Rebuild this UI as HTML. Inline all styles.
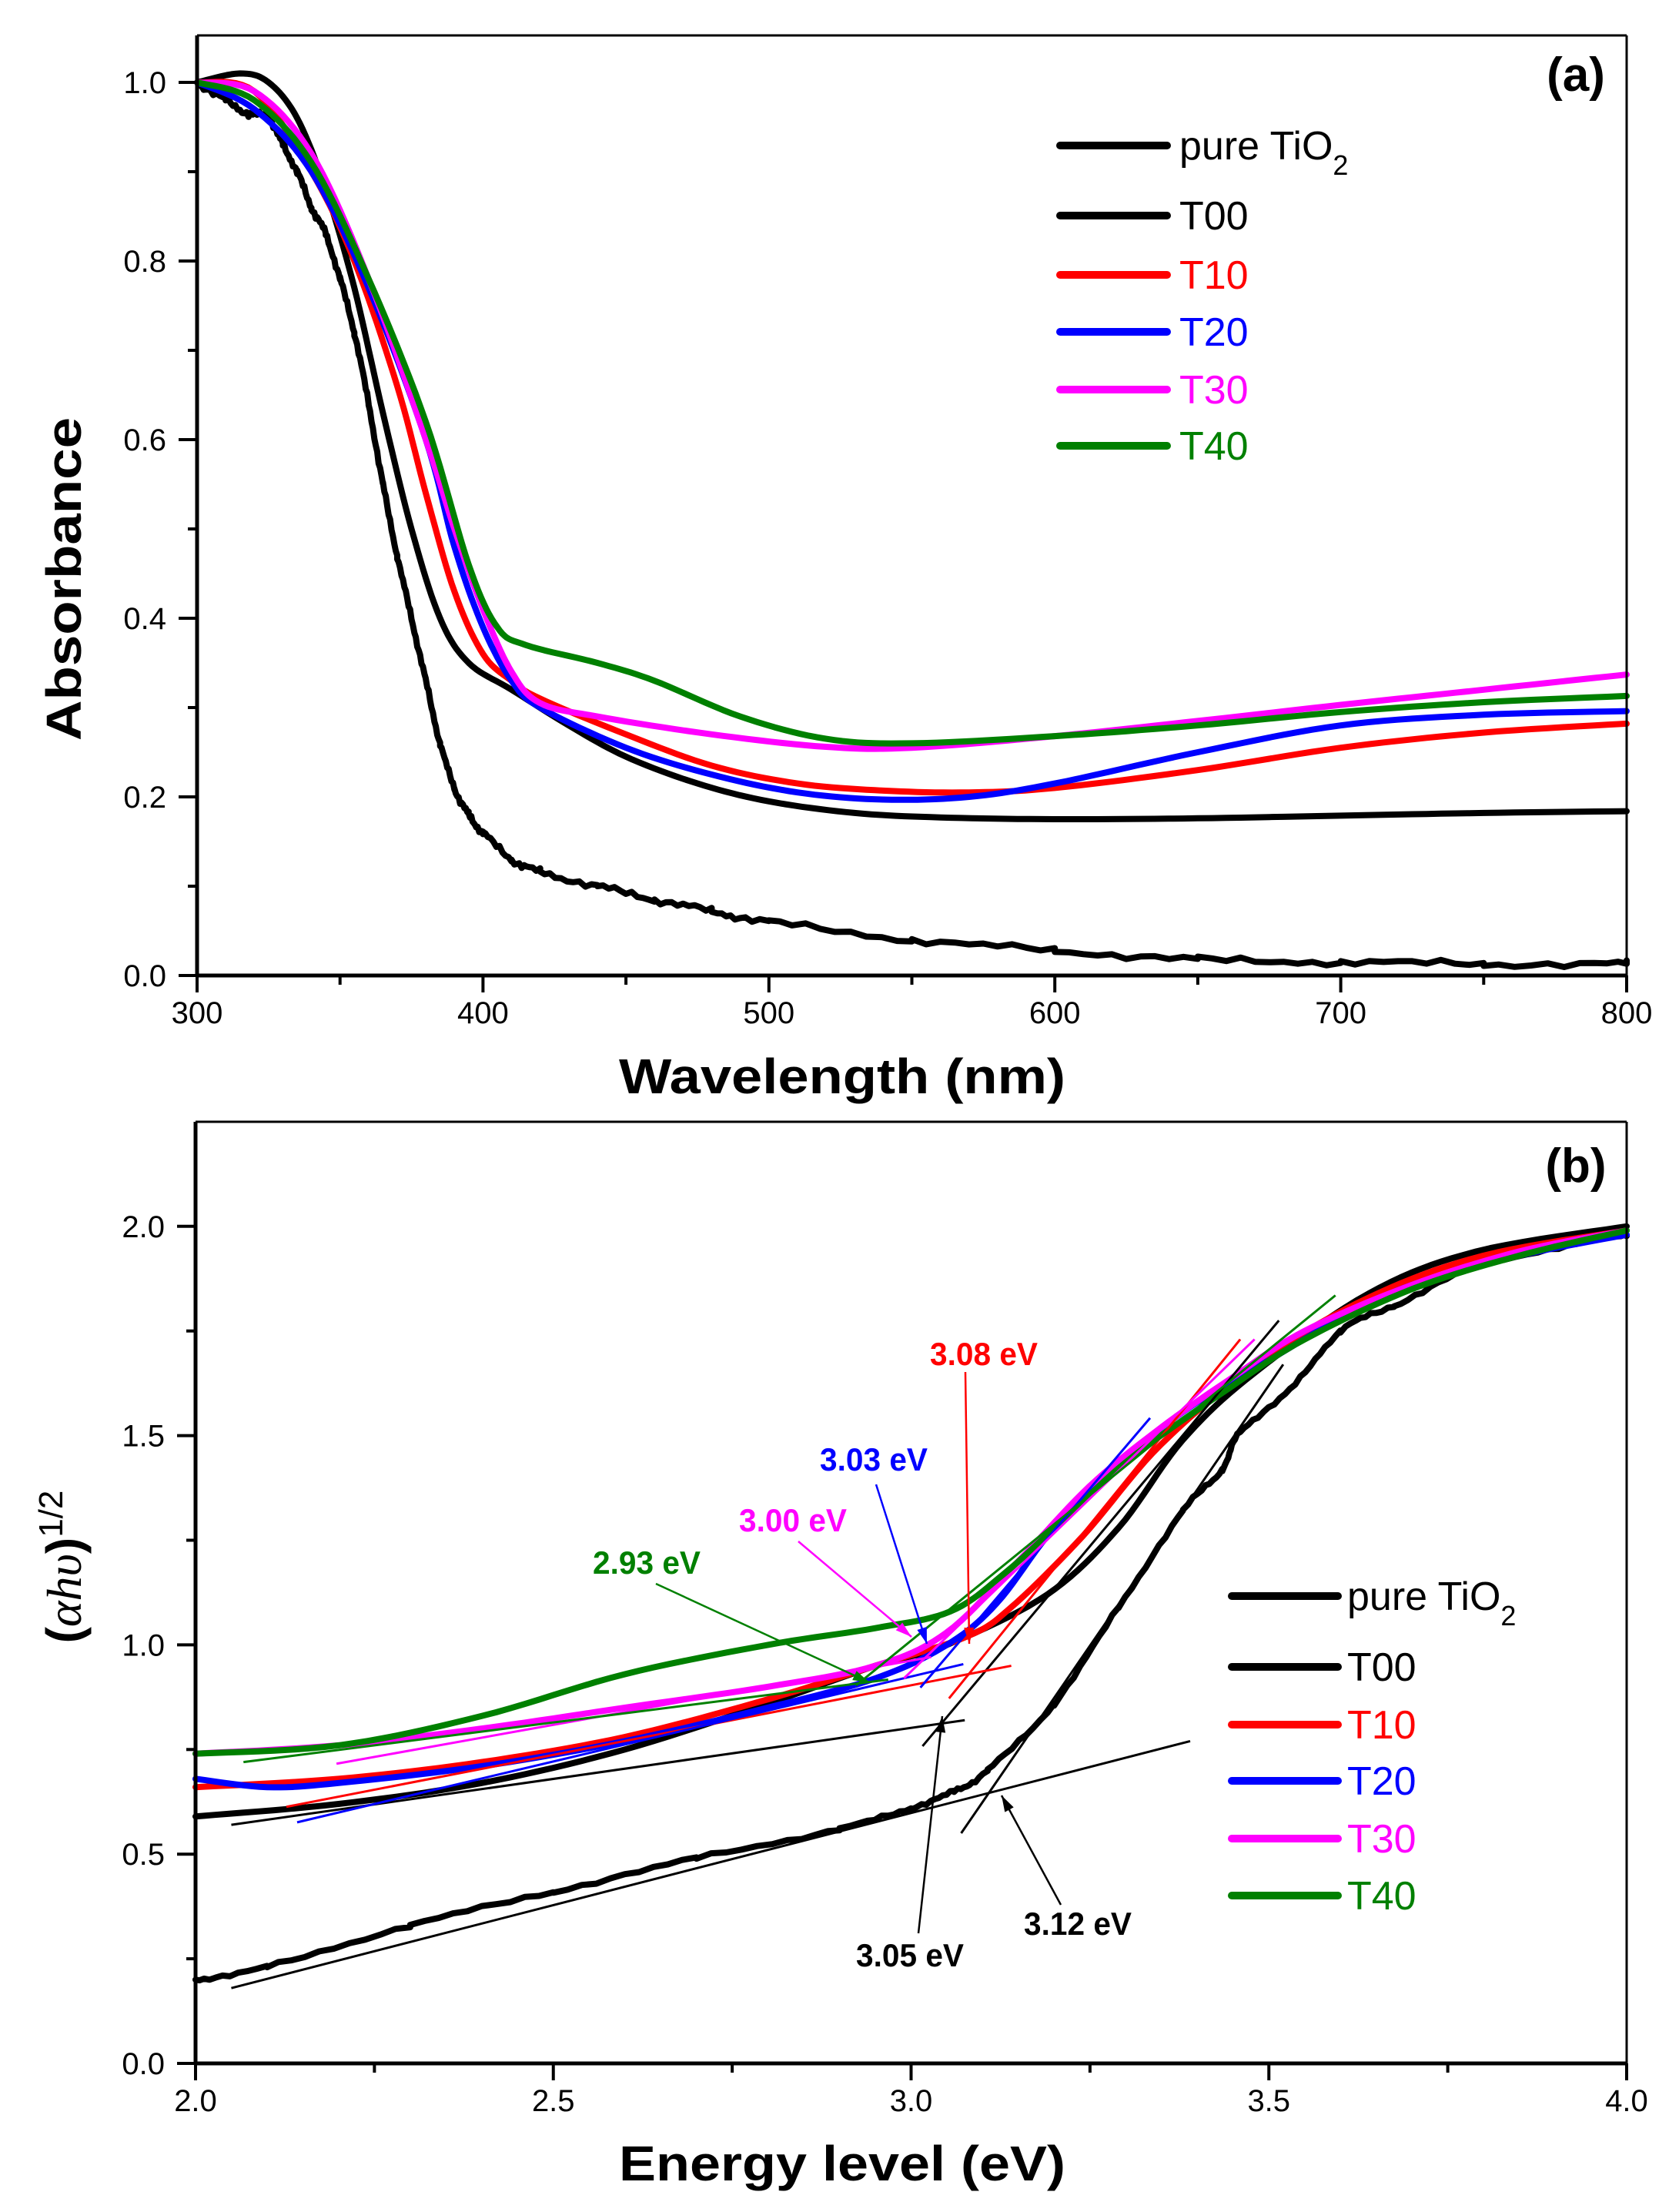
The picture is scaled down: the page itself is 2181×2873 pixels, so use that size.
<!DOCTYPE html>
<html><head><meta charset="utf-8"><style>
html,body{margin:0;padding:0;background:#fff}
svg{display:block}
text{font-family:"Liberation Sans",Arial,sans-serif}
</style></head><body>
<svg id="s" width="2181" height="2873" viewBox="0 0 2181 2873" xmlns="http://www.w3.org/2000/svg">
<rect width="2181" height="2873" fill="#fff"/>
<g id="g"></g>
<text x="2047" y="118" font-size="62" font-weight="bold" text-anchor="middle">(a)</text>
<text x="2047" y="1535" font-size="62" font-weight="bold" text-anchor="middle">(b)</text>
<text x="1094" y="1420" font-size="64" font-weight="bold" text-anchor="middle" textLength="580" lengthAdjust="spacingAndGlyphs">Wavelength (nm)</text>
<text x="1094" y="2832" font-size="64" font-weight="bold" text-anchor="middle" textLength="580" lengthAdjust="spacingAndGlyphs">Energy level (eV)</text>
<text transform="translate(105,752) rotate(-90)" font-size="64" font-weight="bold" text-anchor="middle" textLength="420" lengthAdjust="spacingAndGlyphs">Absorbance</text>
<text transform="translate(105,2035) rotate(-90)" font-size="64" text-anchor="middle"><tspan font-weight="bold">(</tspan><tspan font-family="Liberation Serif,serif" font-style="italic">αhυ</tspan><tspan font-weight="bold">)</tspan><tspan font-size="44" dy="-24">1/2</tspan></text>
</svg>
<script>
const g=document.getElementById('g');let h='';
function A(x,y){return [256+(x-300)*1857/500,1267-y*1160];}
function B(x,y){return [254+(x-2)*1859/2,2680-y*543.6];}
function path(f,pts,c,w){let d='';pts.forEach((p,i)=>{const q=f(p[0],p[1]);d+=(i?'L':'M')+q[0].toFixed(1)+' '+q[1].toFixed(1);});h+=`<path d="${d}" fill="none" stroke="${c}" stroke-width="${w}" stroke-linejoin="round" stroke-linecap="round"/>`;}
function smooth(pts){
 let o=[];for(let i=0;i<pts.length-1;i++){const p0=pts[Math.max(0,i-1)],p1=pts[i],p2=pts[i+1],p3=pts[Math.min(pts.length-1,i+2)];for(let t=0;t<1;t+=0.1){const t2=t*t,t3=t2*t;o.push([0.5*((2*p1[0])+(-p0[0]+p2[0])*t+(2*p0[0]-5*p1[0]+4*p2[0]-p3[0])*t2+(-p0[0]+3*p1[0]-3*p2[0]+p3[0])*t3),0.5*((2*p1[1])+(-p0[1]+p2[1])*t+(2*p0[1]-5*p1[1]+4*p2[1]-p3[1])*t2+(-p0[1]+3*p1[1]-3*p2[1]+p3[1])*t3)]);}}o.push(pts[pts.length-1]);return o;}
function noisy(pts,amp){return pts.map((p,i)=>[p[0],p[1]+(i%3==0?amp:(i%3==1?-amp*0.6:amp*0.3))*Math.sin(i*1.7)]);}
function P(s){return s.trim().split(/\s+/).map(t=>t.split(':').map(Number));}
const R='#ff0000',Bl='#0000ff',M='#ff00ff',G='#008000',K='#000';
const aK1=P('300:1.0 310:0.98 318:0.965 325:0.96 330:0.93 335:0.9 340:0.86 345:0.83 350:0.78 355:0.72 360:0.64 365:0.55 370:0.47 375:0.4 380:0.33 385:0.26 390:0.21 395:0.18 400:0.16 410:0.13 420:0.116 440:0.1 460:0.085 480:0.072 500:0.06 550:0.04 600:0.028 650:0.018 700:0.015 750:0.013 800:0.013');
const aK2=P('300:1.0 315:1.01 325:1.0 335:0.96 345:0.88 355:0.77 365:0.63 375:0.5 385:0.4 395:0.35 410:0.32 430:0.28 450:0.245 475:0.215 500:0.195 530:0.182 560:0.177 600:0.175 650:0.176 700:0.179 750:0.182 800:0.184');
const aR=P('300:1.0 320:0.99 340:0.9 355:0.8 370:0.66 380:0.54 390:0.43 400:0.36 410:0.33 420:0.31 450:0.27 480:0.235 510:0.215 540:0.207 570:0.205 600:0.21 650:0.23 700:0.255 750:0.272 800:0.282');
const aB=P('300:1.0 320:0.97 340:0.9 360:0.77 380:0.6 390:0.48 400:0.39 410:0.33 420:0.3 450:0.255 480:0.225 510:0.205 540:0.197 570:0.2 600:0.215 650:0.25 700:0.28 750:0.292 800:0.296');
const aM=P('300:1.0 320:0.99 340:0.92 360:0.78 380:0.6 390:0.5 400:0.41 410:0.34 420:0.305 440:0.29 480:0.27 520:0.256 550:0.255 600:0.268 650:0.285 700:0.303 750:0.32 800:0.337');
const aG=P('300:1.0 320:0.98 340:0.91 360:0.78 380:0.62 395:0.46 405:0.39 415:0.37 440:0.35 460:0.33 490:0.29 520:0.265 550:0.26 600:0.268 650:0.28 700:0.295 750:0.306 800:0.313');
path(A,noisy(smooth(aK1),0.004),K,8);path(A,smooth(aK2),K,8);path(A,smooth(aR),R,8);path(A,smooth(aB),Bl,8);path(A,smooth(aM),M,8);path(A,smooth(aG),G,8);
const bK1=P('2.0:0.2 2.1:0.23 2.3:0.33 2.5:0.41 2.7:0.49 2.9:0.56 3.0:0.61 3.06:0.65 3.107:0.70 3.2:0.86 3.29:1.09 3.38:1.32 3.435:1.42 3.46:1.51 3.53:1.61 3.6:1.75 3.675:1.81 3.785:1.9 3.93:1.96 4.0:1.98');
const bK2=P('2.0:0.59 2.2:0.62 2.4:0.67 2.6:0.75 2.8:0.86 2.95:0.95 3.05:1.0 3.19:1.12 3.29:1.28 3.38:1.49 3.48:1.65 3.64:1.84 3.79:1.94 4.0:2.0');
const bR=P('2.0:0.66 2.2:0.68 2.4:0.72 2.6:0.78 2.8:0.87 2.95:0.95 3.078:1.02 3.14:1.09 3.24:1.26 3.35:1.48 3.49:1.68 3.64:1.83 3.8:1.93 4.0:1.99');
const bB=P('2.0:0.68 2.1:0.66 2.2:0.67 2.4:0.71 2.6:0.77 2.8:0.85 2.95:0.92 3.05:1.0 3.12:1.1 3.2:1.28 3.3:1.45 3.4:1.58 3.5:1.68 3.6:1.78 3.7:1.86 3.85:1.93 4.0:1.98');
const bM=P('2.0:0.74 2.2:0.76 2.4:0.8 2.6:0.85 2.8:0.9 2.95:0.95 3.05:1.03 3.15:1.2 3.25:1.38 3.35:1.52 3.45:1.64 3.55:1.75 3.7:1.86 3.85:1.94 4.0:1.99');
const bG=P('2.0:0.74 2.2:0.76 2.4:0.83 2.6:0.93 2.8:1.0 2.95:1.04 3.055:1.08 3.13:1.17 3.22:1.31 3.31:1.45 3.45:1.62 3.55:1.73 3.7:1.85 3.85:1.93 4.0:1.99');
path(B,noisy(smooth(bK1),0.005),K,8);path(B,smooth(bK2),K,8);path(B,smooth(bR),R,8);path(B,smooth(bB),Bl,8);path(B,smooth(bM),M,8);path(B,smooth(bG),G,8);
const T=[[2.05,0.18,3.39,0.77,K],[3.07,0.55,3.52,1.67,K],[2.05,0.57,3.075,0.82,K],[3.016,0.758,3.514,1.775,K],
[2.127,0.613,3.14,0.95,R],[3.053,0.872,3.46,1.73,R],[2.142,0.576,3.073,0.954,Bl],[3.013,0.898,3.334,1.542,Bl],
[2.197,0.716,3.028,0.971,M],[2.99,0.92,3.48,1.73,M],[2.067,0.72,2.968,0.917,G],[2.923,0.903,3.593,1.835,G]];
T.forEach(t=>{const a=B(t[0],t[1]),b=B(t[2],t[3]);h+=`<line x1="${a[0]}" y1="${a[1]}" x2="${b[0]}" y2="${b[1]}" stroke="${t[4]}" stroke-width="3"/>`;});
function arrow(x1,y1,x2,y2,c){h+=`<line x1="${x1}" y1="${y1}" x2="${x2}" y2="${y2}" stroke="${c}" stroke-width="2.5"/>`;const a=Math.atan2(y2-y1,x2-x1),L=22,w=0.3;h+=`<polygon points="${x2},${y2} ${x2-L*Math.cos(a-w)},${y2-L*Math.sin(a-w)} ${x2-L*Math.cos(a+w)},${y2-L*Math.sin(a+w)}" fill="${c}"/>`;}
arrow(1254,1782,1259,2135,R);arrow(1138,1928,1204,2135,Bl);arrow(1037,2002,1184,2126,M);arrow(852,2057,1129,2185,G);arrow(1193,2511,1224,2229,K);arrow(1378,2474,1301,2332,K);
function lab(x,y,t,c){h+=`<text x="${x}" y="${y}" font-size="42" font-weight="bold" fill="${c}" text-anchor="middle" textLength="${t.length*20}" lengthAdjust="spacingAndGlyphs" font-family="Liberation Sans Narrow, Liberation Sans, sans-serif">${t}</text>`;}
lab(1278,1773,'3.08 eV',R);lab(1135,1910,'3.03 eV',Bl);lab(1030,1989,'3.00 eV',M);lab(840,2044,'2.93 eV',G);lab(1182,2554,'3.05 eV',K);lab(1400,2513,'3.12 eV',K);
function axes(L,Rr,Tp,Bt,xt,yt){
 h+=`<line x1="${L}" y1="${Tp}" x2="${Rr}" y2="${Tp}" stroke="#000" stroke-width="3"/><line x1="${Rr}" y1="${Tp}" x2="${Rr}" y2="${Bt}" stroke="#000" stroke-width="3"/>`;
 h+=`<line x1="${L}" y1="${Tp}" x2="${L}" y2="${Bt+2}" stroke="#000" stroke-width="5"/><line x1="${L-2}" y1="${Bt}" x2="${Rr}" y2="${Bt}" stroke="#000" stroke-width="5"/>`;
 xt.forEach(t=>{h+=`<line x1="${t[0]}" y1="${Bt}" x2="${t[0]}" y2="${Bt+(t[1]?22:12)}" stroke="#000" stroke-width="4"/>`;if(t[1])h+=`<text x="${t[0]}" y="${Bt+62}" font-size="40" text-anchor="middle">${t[1]}</text>`;});
 yt.forEach(t=>{h+=`<line x1="${L}" y1="${t[0]}" x2="${L-(t[1]?24:12)}" y2="${t[0]}" stroke="#000" stroke-width="4"/>`;if(t[1])h+=`<text x="${L-40}" y="${t[0]+14}" font-size="40" text-anchor="end">${t[1]}</text>`;});
}
let xt=[],yt=[];for(let v=300;v<=800;v+=50)xt.push([A(v,0)[0],v%100==0?String(v):'']);for(let i=0;i<=10;i++)yt.push([A(300,i/10)[1],i%2==0?(i/10).toFixed(1):'']);
axes(256,2113,46,1267,xt,yt);
xt=[];yt=[];for(let i=0;i<=8;i++)xt.push([B(2+i*0.25,0)[0],i%2==0?(2+i*0.25).toFixed(1):'']);for(let i=0;i<=8;i++)yt.push([B(2,i*0.25)[1],i%2==0?(i*0.25).toFixed(1):'']);
axes(254,2113,1457,2680,xt,yt);
function leg(x1,x2,tx,ys){const it=[['pure TiO',K,1],['T00',K],['T10',R],['T20',Bl],['T30',M],['T40',G]];it.forEach((e,i)=>{const y=ys[i];h+=`<line x1="${x1}" y1="${y}" x2="${x2}" y2="${y}" stroke="${e[1]}" stroke-width="10" stroke-linecap="round"/><text x="${tx}" y="${y+18}" font-size="52" fill="${e[1]}">${e[0]}${e[2]?'<tspan font-size="36" dy="20">2</tspan>':''}</text>`;});}
leg(1377,1516,1532,[189,280,357,431,506,579]);
leg(1600,1738,1750,[2073,2165,2240,2313,2388,2462]);
g.innerHTML=h;
</script>
</body></html>
